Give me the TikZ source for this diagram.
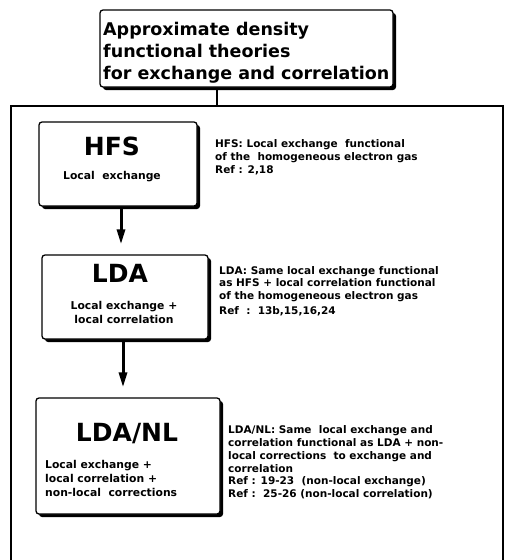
\documentclass[tikz,border=0pt]{standalone}
\usepackage{fontspec}
\setmainfont{DejaVu Sans}
\usetikzlibrary{shadows,arrows.meta}
\begin{document}
\begin{tikzpicture}[x=1pt,y=1pt,
  box/.style={draw,line width=1.3pt,rounded corners=3pt,fill=white,inner sep=0pt,
    drop shadow={shadow xshift=3pt,shadow yshift=-3pt,fill=black,opacity=1}},
  desc/.style={anchor=north west,align=left,inner sep=0pt,
    font=\bfseries\fontsize{10.5}{12.8}\selectfont},
  big/.style={anchor=base,inner sep=0pt,font=\bfseries\fontsize{25}{28}\selectfont},
  sub/.style={inner sep=0pt,font=\bfseries\fontsize{10.8}{14}\selectfont},
  flow/.style={line width=3pt,-{Triangle[width=8pt,length=15pt]},shorten >=10pt},
  frame/.style={line width=1.1pt}]
\useasboundingbox (0,0) rectangle (504,-560);

% title box
\node[box,minimum width=293pt,minimum height=77pt] (top) at (246.5,-48.5) {};
\node[anchor=north west,align=left,inner sep=0pt,
  font=\bfseries\fontsize{17.5}{22}\selectfont] (title) at (103,-22)
  {Approximate density\\functional theories\\for exchange and correlation};

% frame
\coordinate (fl) at (11,-560);
\coordinate (ftl) at (11,-106);
\coordinate (ftr) at (503,-106);
\coordinate (fr) at (503,-560);
\coordinate (fj) at (217,-106);
\draw[frame] (fl) -- (ftl) -- (ftr) -- (fr);
\draw[frame,line width=1.5pt] (top.south -| fj) -- (fj);

% HFS
\node[box,minimum width=158pt,minimum height=84pt] (hfs) at (118,-164) {};
\node[big] (hfsT) at (112,-155) {HFS};
\node[sub,anchor=base] (hfsS) at (112,-179) {Local\ \ exchange};
\node[desc] (hfsD) at (215,-139.5)
  {HFS: Local exchange\ \ functional\\of the\ \ homogeneous electron gas\\Ref\ : 2,18};

% LDA
\node[box,minimum width=166pt,minimum height=84pt] (lda) at (125,-297) {};
\node[big] (ldaT) at (120,-282) {LDA};
\node[sub,anchor=north,align=center] (ldaS) at (124,-301.5)
  {Local exchange +\\local correlation};
\node[desc] (ldaD) at (219,-266)
  {LDA: Same local exchange functional\\as HFS + local correlation functional\\of the homogeneous electron gas\\[1.5pt]Ref\ \ :\ \ 13b,15,16,24};

% LDA/NL
\node[box,minimum width=184pt,minimum height=116pt] (nl) at (128,-456) {};
\node[big] (nlT) at (127,-441) {LDA/NL};
\node[sub,anchor=north west,align=left] (nlS) at (45,-460.5)
  {Local exchange +\\local correlation +\\non-local\ \ corrections};
\node[desc] (nlD) at (228,-425.5)
  {LDA/NL: Same\ \ local exchange and\\correlation functional as LDA + non-\\local corrections\ \ to exchange and\\correlation\\Ref : 19-23\ \ (non-local exchange)\\Ref :\ \ 25-26 (non-local correlation)};

% arrows
\coordinate (a1) at (121,0);
\coordinate (a2) at (123,0);
\draw[flow] (hfs.south -| a1) -- (lda.north -| a1);
\draw[flow] (lda.south -| a2) -- (nl.north -| a2);
\end{tikzpicture}
\end{document}
